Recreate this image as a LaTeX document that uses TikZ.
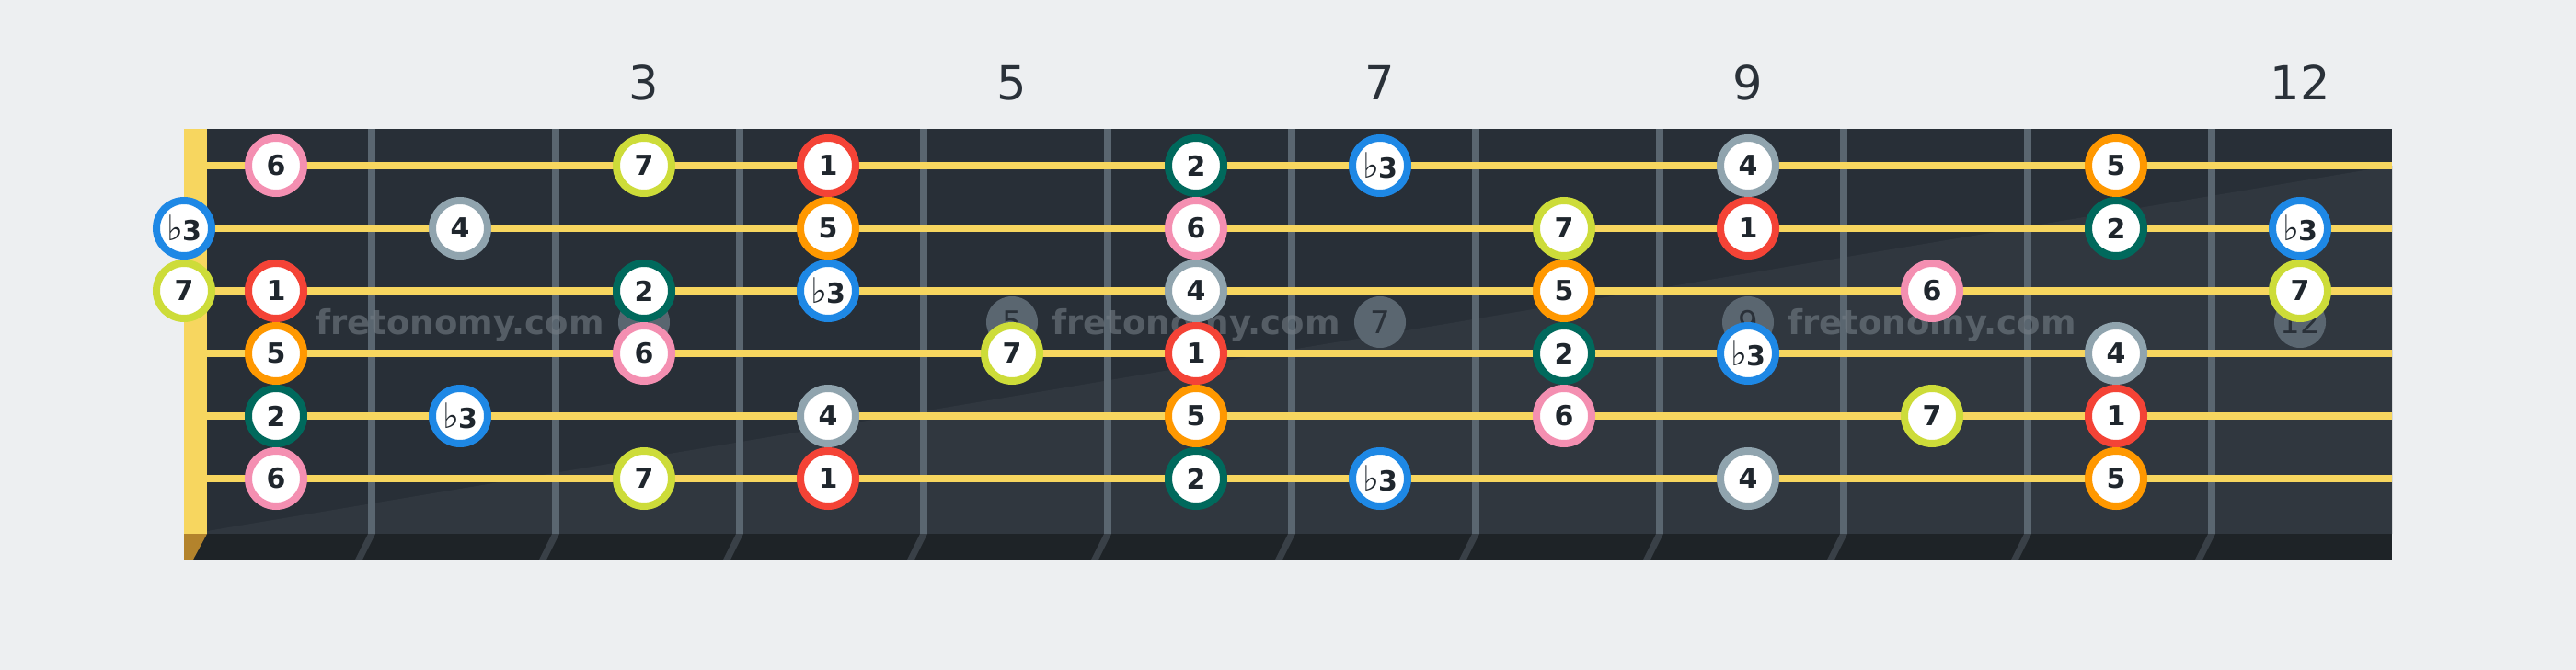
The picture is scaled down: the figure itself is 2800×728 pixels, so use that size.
\documentclass[tikz,border=0pt]{standalone}
\usepackage{fontspec}
\setmainfont{DejaVu Sans}
\usepackage{xcolor}
\definecolor{bg}{HTML}{EDEFF1}
\definecolor{board}{HTML}{282F37}
\definecolor{boardlo}{HTML}{30373F}
\definecolor{boardbot}{HTML}{1E2327}
\definecolor{wire}{HTML}{5A6670}
\definecolor{wireshade}{HTML}{394047}
\definecolor{strg}{HTML}{F7D65F}
\definecolor{nutfoot}{HTML}{B3832C}
\definecolor{ink}{HTML}{1F262D}
\definecolor{numink}{HTML}{2A3139}
\definecolor{deg1}{HTML}{F44336}
\definecolor{deg2}{HTML}{00695C}
\definecolor{deg3}{HTML}{1E88E5}
\definecolor{deg4}{HTML}{90A4AE}
\definecolor{deg5}{HTML}{FF9800}
\definecolor{deg6}{HTML}{F48FB1}
\definecolor{deg7}{HTML}{CDDC39}
\newcommand\deglabel[1]{\ifnum#1=3 {\mdseries\fontsize{38}{38}\selectfont\char"266D}\kern-1pt\fi#1}

\begin{document}
\begin{tikzpicture}[x=1pt,y=-1pt,
  note/.style={circle,draw=deg#1,line width=8pt,fill=white,minimum size=60pt,inner sep=0pt,text=ink,font=\fontsize{30}{30}\selectfont\bfseries},
  inlay/.style={circle,fill=wire,minimum size=56pt,inner sep=0pt,text=numink,font=\fontsize{34}{36}\selectfont},
  fretnum/.style={text=numink,font=\fontsize{51}{55}\selectfont},
  wmark/.style={anchor=base,text=wire!85!white,text opacity=0.6,font=\fontsize{37}{40}\selectfont\bfseries}]
\useasboundingbox (0,0) rectangle (2800,728);
\fill[bg] (0,0) rectangle (2800,728);
\fill[board] (200,140) rectangle (2600,580);
\fill[boardlo] (225,577) -- (2600,180) -- (2600,580) -- (225,580) -- cycle;
\fill[boardbot] (200,580) rectangle (2600,608);
\foreach \k in {1,...,11}
  \fill[wireshade] (200+200*\k,580) -- ++(8,0) -- ++(-14,28) -- ++(-8,0) -- cycle;
\fill[nutfoot] (200,580) -- (225,580) -- (210,608) -- (200,608) -- cycle;
\foreach \k in {1,...,11}
  \fill[wire] (200+200*\k,140) rectangle ++(8,440);
\fill[strg] (200,140) rectangle (225,580);
\foreach \m/\x in {3/700,5/1100,7/1500,9/1900,12/2500}{
  \node[inlay] (dot\m) at (\x,350) {\m};
  \node[fretnum] (fret\m) at (\x,90) {\m};
}
\foreach \x [count=\i] in {500,1300,2100}
  \node[wmark] (wm\i) at (\x,363) {fretonomy.com};
\foreach \s in {1,...,6}
  \draw[strg,line width=8pt] (225,112+68*\s) -- (2600,112+68*\s);
\foreach \s/\f/\d [evaluate=\f as \fx using {max(200,100+200*\f)}, evaluate=\s as \sy using {112+68*\s}] in
  {1/1/6, 1/3/7, 1/4/1, 1/6/2, 1/7/3, 1/9/4, 1/11/5,
   2/0/3, 2/2/4, 2/4/5, 2/6/6, 2/8/7, 2/9/1, 2/11/2, 2/12/3,
   3/0/7, 3/1/1, 3/3/2, 3/4/3, 3/6/4, 3/8/5, 3/10/6, 3/12/7,
   4/1/5, 4/3/6, 4/5/7, 4/6/1, 4/8/2, 4/9/3, 4/11/4,
   5/1/2, 5/2/3, 5/4/4, 5/6/5, 5/8/6, 5/10/7, 5/11/1,
   6/1/6, 6/3/7, 6/4/1, 6/6/2, 6/7/3, 6/9/4, 6/11/5}
  \node[note=\d] (n\s-\f) at (\fx,\sy) {\deglabel{\d}};
\end{tikzpicture}
\end{document}
